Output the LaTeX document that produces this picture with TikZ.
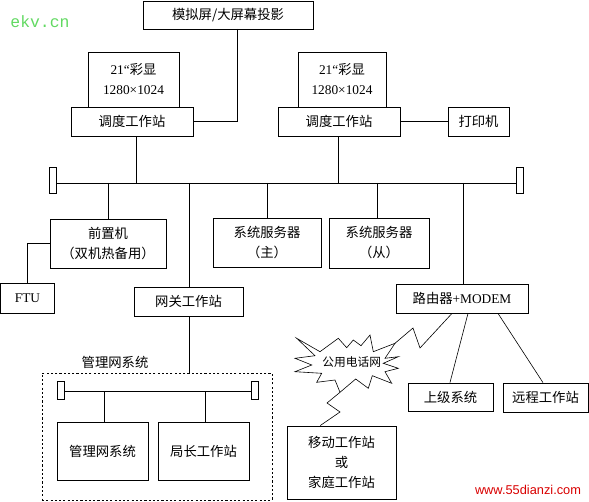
\documentclass[tikz,border=0pt]{standalone}
\usepackage{fontspec}
\setmainfont{Liberation Serif}
\newfontfamily\cjk{Noto Sans CJK SC}
\newfontfamily\wmmono{Liberation Mono}
\newfontfamily\wmsans{Liberation Sans}
\begin{document}
\begin{tikzpicture}[x=0.75pt,y=-0.75pt,
  box/.style={draw,line width=0.6pt,inner sep=0pt,align=center,font=\fontsize{10pt}{15pt}\selectfont},
  term/.style={draw,line width=0.6pt,inner sep=0pt,minimum width=5.25pt},
  wire/.style={line width=0.6pt},
  thinwire/.style={line width=0.45pt}]
\useasboundingbox (0,0) rectangle (589,502);
% top row
\node[box,minimum width=127.5pt,minimum height=21pt] (top) at (228,15) {\cjk 模拟屏/大屏幕投影};
\node[box,minimum width=68.25pt,minimum height=41.25pt] (mon1) at (133.5,79.5) {21“{\cjk 彩显}\\1280×1024};
\node[box,minimum width=91.5pt,minimum height=21.75pt] (dd1) at (132,121.5) {\cjk 调度工作站};
\node[box,minimum width=66pt,minimum height=41.25pt] (mon2) at (342,79.5) {21“{\cjk 彩显}\\1280×1024};
\node[box,minimum width=91.5pt,minimum height=21.75pt] (dd2) at (339,121.5) {\cjk 调度工作站};
\node[box,minimum width=45.75pt,minimum height=21.75pt] (prn) at (478.5,121.5) {\cjk 打印机};
% bus
\node[term,minimum height=19.5pt] (tl) at (52.5,180) {};
\node[term,minimum height=19.5pt] (tr) at (520,180) {};
\coordinate (busL) at (56,183);
\coordinate (busR) at (517,183);
\coordinate (b1) at (136,183);
\coordinate (b2) at (338,183);
\coordinate (b3) at (108,183);
\coordinate (b4) at (189,183);
\coordinate (b5) at (267,183);
\coordinate (b6) at (377,183);
\coordinate (b7) at (463,183);
% middle row
\node[box,minimum width=87pt,minimum height=36.75pt] (qzj) at (108,243.5) {{\cjk 前置机}\\{\cjk （双机热备用）}};
\node[box,minimum width=40.5pt,minimum height=22.5pt] (ftu) at (27.5,298) {FTU};
\node[box,minimum width=81.75pt,minimum height=21.75pt] (gw) at (188.5,301.5) {\cjk 网关工作站};
\node[box,minimum width=81pt,minimum height=36.75pt] (srv1) at (267,242.5) {{\cjk 系统服务器}\\{\cjk （主）}};
\node[box,minimum width=75pt,minimum height=37.5pt] (srv2) at (379,243) {{\cjk 系统服务器}\\{\cjk （从）}};
\node[box,minimum width=99pt,minimum height=21.75pt] (rt) at (462,298.5) {{\cjk 路由器}+MODEM};
% management area
\node[draw,dash pattern=on 1.6pt off 1.6pt,line width=0.6pt,minimum width=172.5pt,minimum height=95.25pt,inner sep=0pt] (area) at (157,436.5) {};
\node[font=\cjk\fontsize{10pt}{12pt}\selectfont,inner sep=0pt] (arealbl) at (115,362) {管理网系统};
\node[term,minimum height=13.5pt] (itl) at (60.5,390) {};
\node[term,minimum height=13.5pt] (itr) at (255,390) {};
\coordinate (ibL) at (64,391);
\coordinate (ibR) at (252,391);
\coordinate (ib1) at (104,391);
\coordinate (ib2) at (205,391);
\node[box,minimum width=68.25pt,minimum height=43.5pt] (mgmt) at (102.5,451) {\cjk 管理网系统};
\node[box,minimum width=68.25pt,minimum height=43.5pt] (jz) at (203.5,451) {\cjk 局长工作站};
% right lower
\node[box,minimum width=63.75pt,minimum height=21pt] (sj) at (450.5,397) {\cjk 上级系统};
\node[box,minimum width=63.75pt,minimum height=21.75pt] (yc) at (545.5,397.5) {\cjk 远程工作站};
\node[box,minimum width=81.75pt,minimum height=54.75pt] (mob) at (341.5,462.5) {{\cjk 移动工作站}\\{\cjk 或}\\{\cjk 家庭工作站}};
% star
\draw[thinwire] (296.7,338.3) -- (320,351.7) -- (338.3,338.3) -- (346.7,347.7) -- (353.3,340) -- (361,345.7) -- (370,335) -- (373.3,351.7) -- (395,343.3) coordinate (stR) -- (385,358.3) -- (398.3,356.7) -- (383.3,363.3) -- (398.3,368.3) -- (385,371.7) -- (391.7,383.3) -- (372.3,375.7) -- (368.3,388.3) -- (355.7,379) -- (340,392.3) coordinate (stB) -- (335,380) -- (316.7,382.3) -- (321.7,373.3) -- (295,371.7) -- (311.7,365) -- (295,358.3) -- (315,355.7) -- cycle;
\node[font=\cjk\fontsize{8.8pt}{10pt}\selectfont,inner sep=0pt] (pstn) at (351.7,362.3) {公用电话网};
% watermarks
\node[font=\wmmono\fontsize{12.3pt}{14pt}\selectfont,text=green!55!white!85!black,inner sep=0pt] (wm1) at (40,22) {ekv.cn};
\node[font=\wmsans\fontsize{9.6pt}{12pt}\selectfont,text=red!85!black,inner sep=0pt] (wm2) at (528,490) {www.55dianzi.com};
% connectors
\coordinate (t1) at (237,29);
\draw[wire] (t1) |- (dd1.east);
\draw[wire] (b1 |- dd1.south) -- (b1);
\draw[wire] (b2 |- dd2.south) -- (b2);
\draw[wire] (dd2.east) -- (prn.west);
\draw[wire] (busL) -- (busR);
\draw[wire] (b3) -- (qzj.north);
\draw[wire] (b4) -- (b4 |- gw.north);
\draw[wire] (b5) -- (b5 |- srv1.north);
\draw[wire] (b6) -- (b6 |- srv2.north);
\draw[wire] (b7) -- (b7 |- rt.north);
\draw[wire] (ftu.north) |- (qzj.west);
\draw[wire] (b4 |- gw.south) -- (b4 |- area.north);
\draw[wire] (ibL) -- (ibR);
\draw[wire] (ib1) -- (ib1 |- mgmt.north);
\draw[wire] (ib2) -- (ib2 |- jz.north);
\draw[thinwire] ([xshift=4.5pt]rt.south) -- ([xshift=-0.4pt]sj.north);
\draw[thinwire] ([xshift=27pt]rt.south) -- ([xshift=-1.9pt]sj.north -| yc.north);
\draw[thinwire] ([xshift=-7.5pt]rt.south) -- (420,348) -- (413,328) -- (stR);
\draw[thinwire] (stB) -- (327,403) -- (340,412) -- ([xshift=-16pt]mob.north);
\end{tikzpicture}
\end{document}
